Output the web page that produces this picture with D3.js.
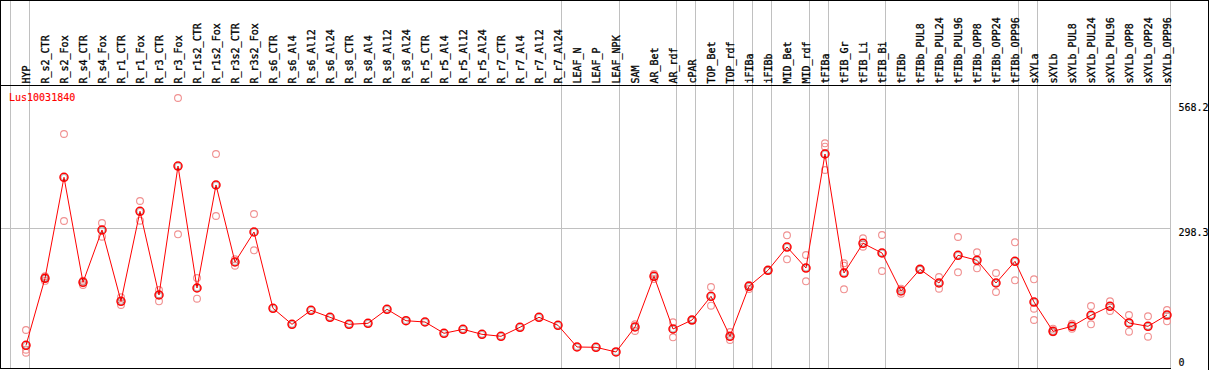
<!DOCTYPE html>
<html>
<head>
<meta charset="utf-8">
<style>
body { margin: 0; background: #fff; }
svg { display: block; }
.lbl { font-family: "DejaVu Sans Mono", monospace; font-size: 10px; fill: #000; stroke: #000; stroke-width: 0.15; }
.sample { stroke-width: 0.32; }
.sep { stroke: #c0c0c0; stroke-width: 1; shape-rendering: crispEdges; }
.frame { stroke: #000; stroke-width: 1; shape-rendering: crispEdges; }
.rep { fill: none; stroke: #f09090; stroke-width: 1.1; }
.trend { fill: none; stroke: #ff0000; stroke-width: 1; }
</style>
</head>
<body>
<script src="https://d3js.org/d3.v7.min.js"></script>
<script>
// sample names, in plot order
var samples = ["HYP","R_s2_CTR","R_s2_Fox","R_s4_CTR","R_s4_Fox","R_r1_CTR","R_r1_Fox","R_r3_CTR","R_r3_Fox",
  "R_r1s2_CTR","R_r1s2_Fox","R_r3s2_CTR","R_r3s2_Fox","R_s6_CTR","R_s6_Al4","R_s6_Al12","R_s6_Al24",
  "R_s8_CTR","R_s8_Al4","R_s8_Al12","R_s8_Al24","R_r5_CTR","R_r5_Al4","R_r5_Al12","R_r5_Al24",
  "R_r7_CTR","R_r7_Al4","R_r7_Al12","R_r7_Al24","LEAF_N","LEAF_P","LEAF_NPK","SAM","AR_Bet","AR_rdf",
  "cPAR","TOP_Bet","TOP_rdf","iFIBa","iFIBb","MID_Bet","MID_rdf","tFIBa","tFIB_Gr","tFIB_Li","tFIB_Bi",
  "tFIBb","tFIBb_PUL8","tFIBb_PUL24","tFIBb_PUL96","tFIBb_OPP8","tFIBb_OPP24","tFIBb_OPP96",
  "sXYLa","sXYLb","sXYLb_PUL8","sXYLb_PUL24","sXYLb_PUL96","sXYLb_OPP8","sXYLb_OPP24","sXYLb_OPP96"];

// mean expression per sample
var means = [44.7,189.6,407.9,180.9,294.0,139.9,334.4,153.5,432.3,168.6,391.3,224.8,289.7,124.7,90.1,120.4,105.3,
  90.1,92.3,122.6,97.9,95.1,70.7,79.3,68.5,64.2,83.7,105.3,88.0,41.1,40.4,30.3,84.3,193.9,80.0,
  99.4,150.7,64.2,172.3,206.9,257.2,211.8,458.3,201.0,265.2,244.3,
  162.1,209.0,179.4,239.3,228.5,179.4,226.3,
  138.3,75.0,85.8,109.6,129.1,93.0,85.8,110.2];

// individual replicates (empty where only one sample)
var reps = [[77.8,35.2,28.7],[194,190,184],[501.5,313.4],[184.4,175.1],[309.1,279.5],[148.5,131.9],[356.7,314.1],[164.3,139.9],[579.3,284.7],
  [190.2,145.5],[458.3,324.3],[230.7,216.8],[328.6,250.1],[],[],[],[],
  [],[],[],[],[],[],[],[],
  [],[],[],[],[],[],[],[90.1,75.7],[198.9,188.1],[94.5,62.0],
  [99.4],[170.8,130.4],[73.5,56.2],[175.1,166.5],[206.9],[282.5,230.7],[240.0,183.1],[481.4,474.1,423.7],[222.0,216.8,165.8],[276.0,257.9],[283.2,205.4],
  [167.1,156.3],[209.0],[192.4,167.1],[278.9,202.6],[245.8,211.2],[201.0,160.0],[267.4,185.3],
  [187.4,123.9,99.4],[80.6,72.8],[91.4,80.6],[129.7,90.1],[139.9,118.9],[110.2,74.1],[107.4,63.3],[121.1,96.6]];

// first sample of each tissue group
var groupStarts = ["HYP","R_s2_CTR","LEAF_N","SAM","cPAR","TOP_Bet","iFIBa","iFIBb","MID_Bet","tFIBa","tFIB_Gr","tFIBb","sXYLa","sXYLb"];

var yTicks = [0, 298.3, 568.2];
var geneName = "Lus10031840";

var width = 1209, height = 370;
var headerY = 85.5, plotRight = 1170.5;

var svg = d3.select("body").append("svg")
  .attr("width", width)
  .attr("height", height);

var x = d3.scaleBand().domain(samples).range([10.5, plotRight]);
function px(d) { return Math.round(x(d) + 15.5); }

var y = d3.scaleLinear().domain([0, 568.2]).range([366, 103.15]);

// group separators
svg.selectAll("line.sep")
  .data(groupStarts)
  .enter().append("line")
  .attr("class", "sep")
  .attr("x1", function(d) { return Math.round(x(d) - 0.5) + 0.5; })
  .attr("x2", function(d) { return Math.round(x(d) - 0.5) + 0.5; })
  .attr("y1", 0).attr("y2", 369);
svg.append("line").attr("class", "sep")
  .attr("x1", plotRight).attr("x2", plotRight).attr("y1", 0).attr("y2", 369);

// horizontal mid grid line
svg.append("line").attr("class", "sep")
  .attr("x1", 0).attr("x2", plotRight)
  .attr("y1", Math.round(y(298.3)) + 0.5).attr("y2", Math.round(y(298.3)) + 0.5);

// frame
svg.append("line").attr("class", "frame").attr("x1", 0).attr("x2", width).attr("y1", 0.5).attr("y2", 0.5);
svg.append("line").attr("class", "frame").attr("x1", 0.5).attr("x2", 0.5).attr("y1", 0).attr("y2", 369);
svg.append("line").attr("class", "frame").attr("x1", 1208.5).attr("x2", 1208.5).attr("y1", 0).attr("y2", height);
svg.append("line").attr("class", "frame").attr("x1", 0).attr("x2", plotRight).attr("y1", headerY).attr("y2", headerY);
svg.append("line").attr("class", "frame").attr("x1", 0).attr("x2", plotRight).attr("y1", 368.5).attr("y2", 368.5);

// sample labels, rotated
svg.selectAll("text.sample")
  .data(samples)
  .enter().append("text")
  .attr("class", "lbl sample")
  .attr("transform", function(d) { return "translate(" + (px(d) + 3.5) + ",83.5) rotate(-90)"; })
  .text(function(d) { return d; });

// gene name
svg.append("text")
  .attr("class", "lbl")
  .attr("x", 9).attr("y", 101)
  .style("fill", "#ff0000")
  .style("stroke", "#ff0000")
  .text(geneName);

// y tick labels on the right
svg.selectAll("text.ytick")
  .data(yTicks)
  .enter().append("text")
  .attr("class", "lbl ytick")
  .attr("x", 1178.5)
  .attr("y", function(d) { return d === 0 ? y(d) - 0.5 : y(d) + 7.8; })
  .text(function(d) { return d === 0 ? "0" : d3.format(".1f")(d); });

// replicate points
var repPts = [];
samples.forEach(function(s, i) {
  reps[i].forEach(function(v) { repPts.push({s: s, v: v}); });
});
svg.append("g").selectAll("circle")
  .data(repPts)
  .enter().append("circle")
  .attr("class", "rep")
  .attr("cx", function(d) { return px(d.s); })
  .attr("cy", function(d) { return y(d.v); })
  .attr("r", 3.4);

// mean line
var line = d3.line()
  .x(function(d, i) { return px(samples[i]); })
  .y(function(d) { return y(d); });
svg.append("path")
  .datum(means)
  .attr("class", "trend")
  .attr("d", line);

// mean points
var mg = svg.append("g");
mg.selectAll("circle.m")
  .data(means)
  .enter().append("circle")
  .attr("cx", function(d, i) { return px(samples[i]); })
  .attr("cy", function(d) { return y(d); })
  .attr("r", 4)
  .attr("fill", "none")
  .attr("stroke", "#ff0000")
  .attr("stroke-width", 1.5);
mg.selectAll("circle.k")
  .data(means)
  .enter().append("circle")
  .attr("cx", function(d, i) { return px(samples[i]); })
  .attr("cy", function(d) { return y(d); })
  .attr("r", 2.9)
  .attr("fill", "none")
  .attr("stroke", "#000")
  .attr("stroke-opacity", 0.45)
  .attr("stroke-width", 0.6);
</script>
</body>
</html>
